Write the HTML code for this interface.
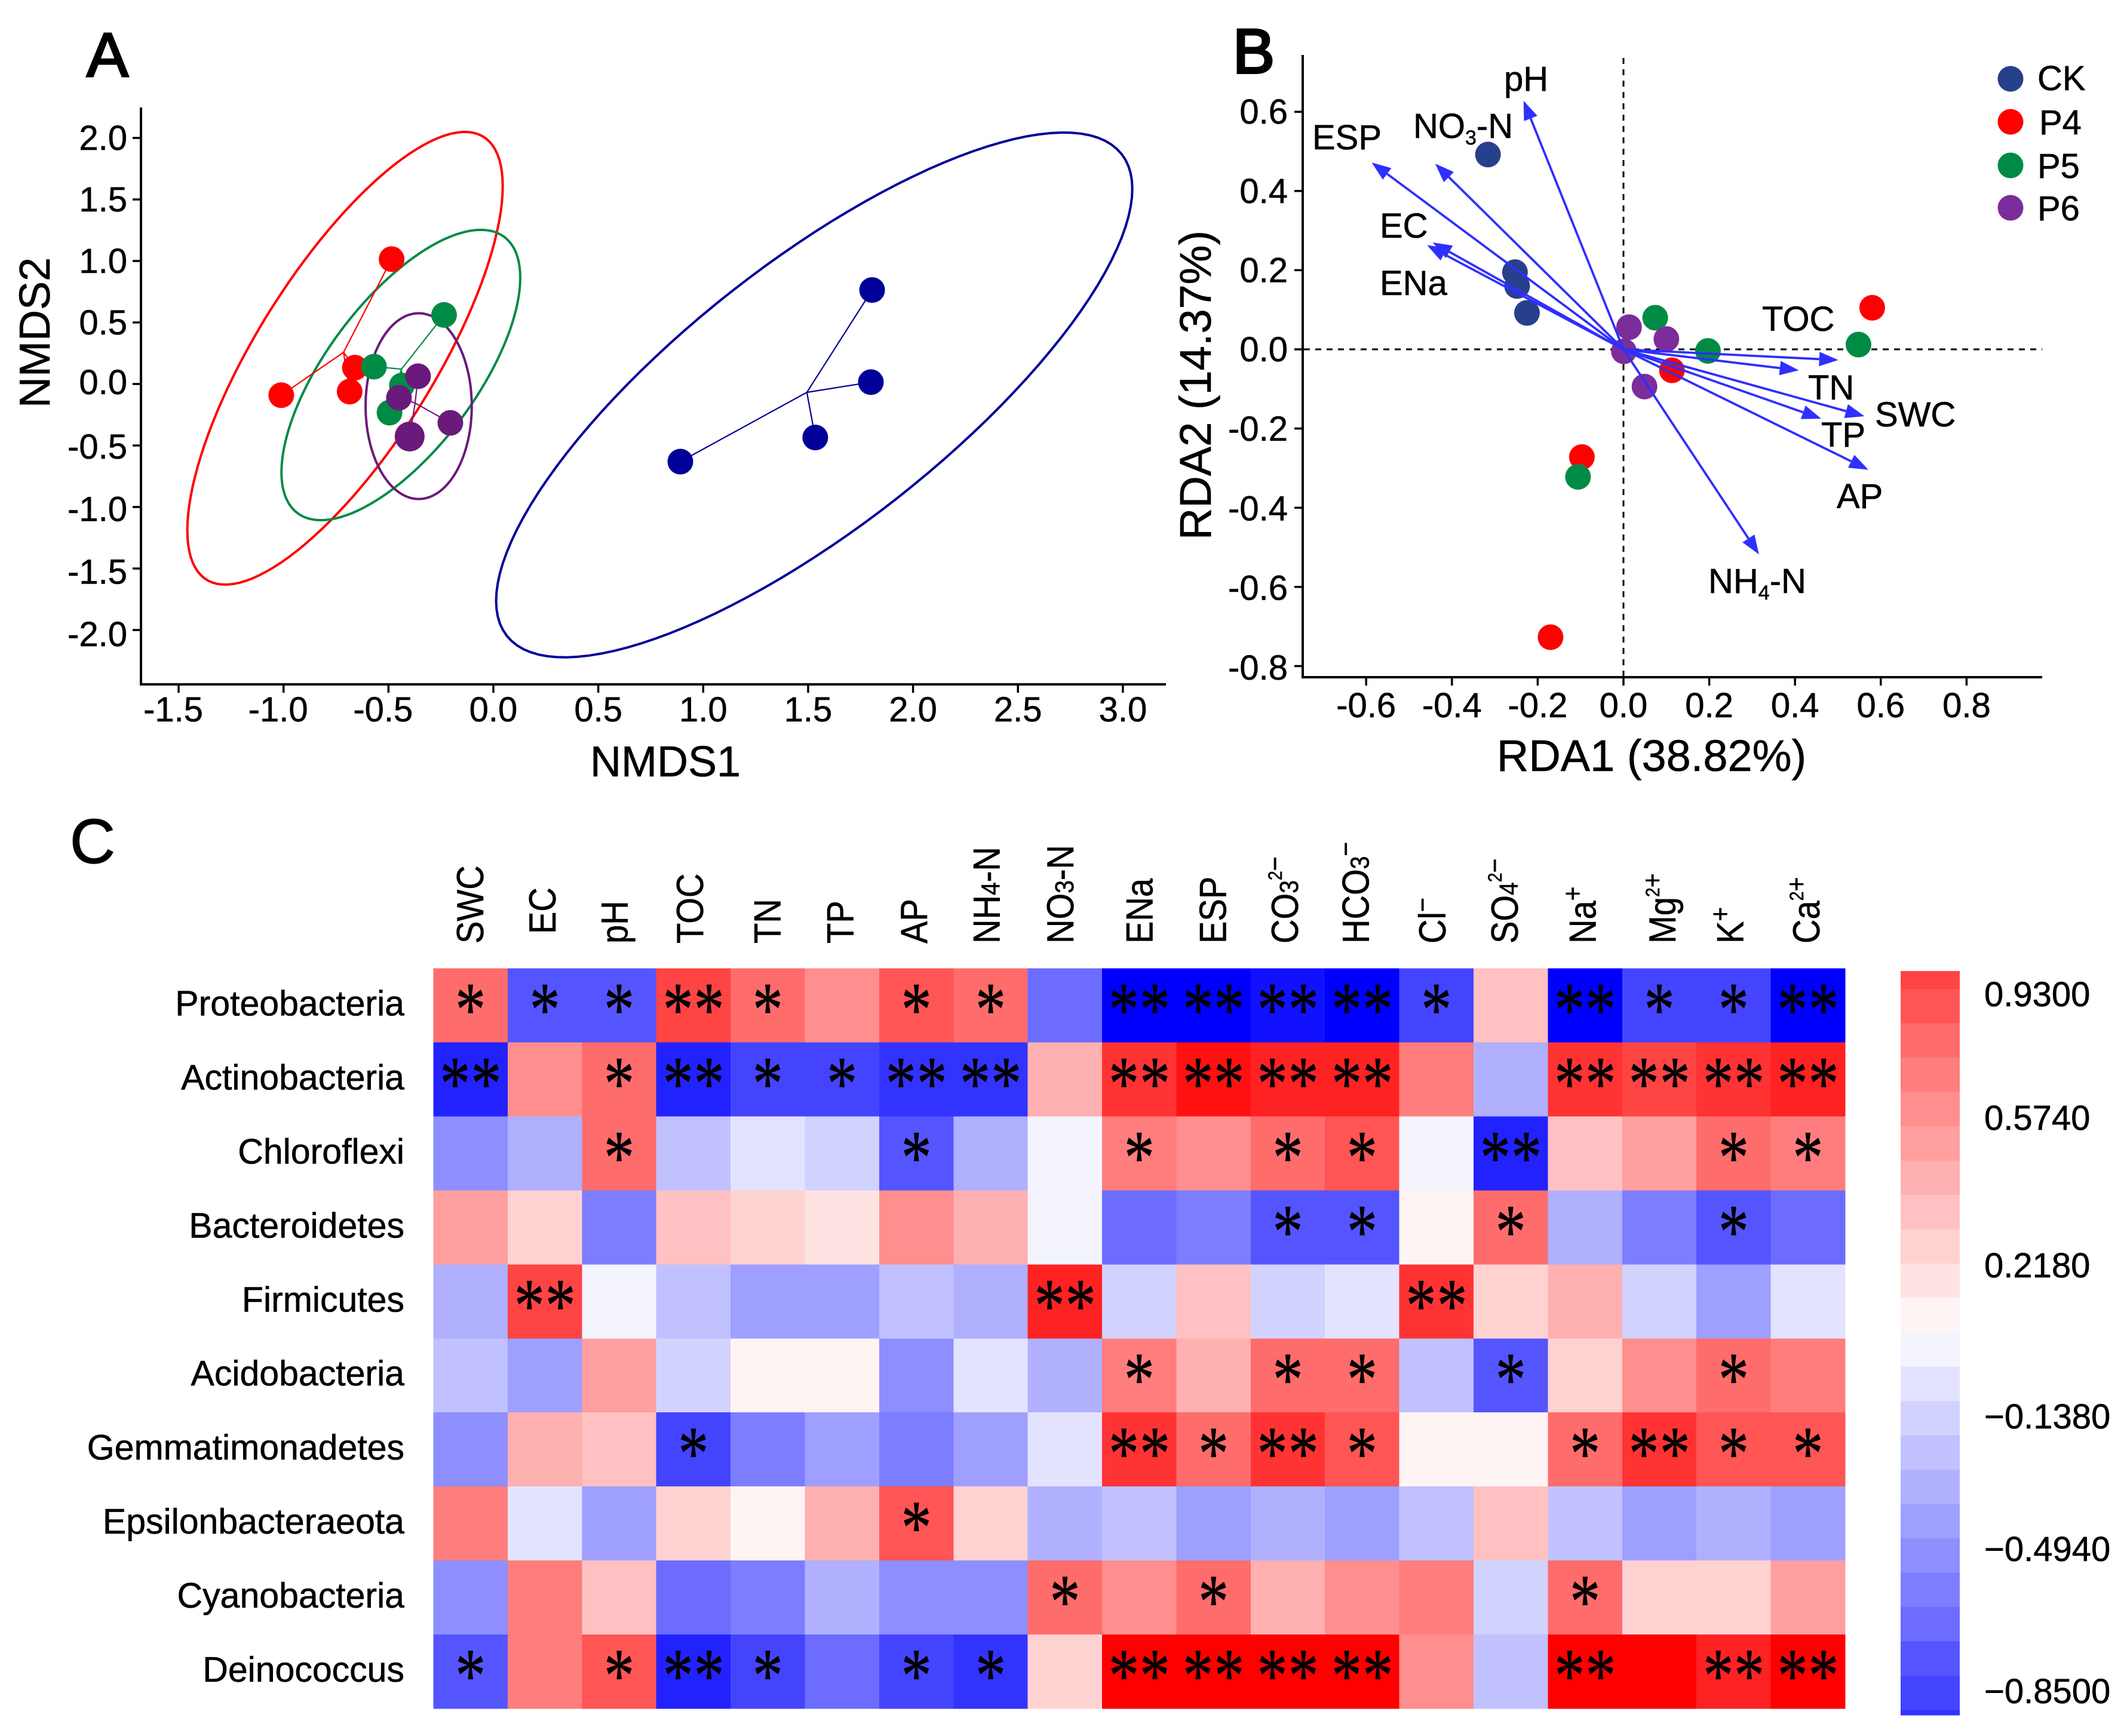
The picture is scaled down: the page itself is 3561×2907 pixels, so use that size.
<!DOCTYPE html>
<html lang="en">
<head>
<meta charset="utf-8">
<title>NMDS, RDA and correlation heatmap</title>
<style>
html,body{margin:0;padding:0;background:#fff;width:3561px;height:2907px;overflow:hidden}
svg{display:block;font-family:"Liberation Sans",sans-serif;fill:#000}
svg text{stroke:#000;stroke-width:.6}
</style>
</head>
<body>
<svg id="figure" xmlns="http://www.w3.org/2000/svg" width="3561" height="2907" viewBox="0 0 3561 2907">
  <rect x="0" y="0" width="3561" height="2907" fill="#ffffff"/>
  <text x="145" y="128" font-size="105" style="stroke-width:3">A</text>
  <text x="2064" y="122" font-size="105" style="stroke-width:4">B</text>
  <text x="117" y="1445" font-size="105" style="stroke-width:1.5">C</text>

  <text x="1114" y="1300" font-size="72" text-anchor="middle">NMDS1</text>
  <text transform="translate(83,557) rotate(-90)" font-size="72" text-anchor="middle">NMDS2</text>
  <text x="2765" y="1291" font-size="74" text-anchor="middle">RDA1 (38.82%)</text>
  <text transform="translate(2027,645) rotate(-90)" font-size="74" text-anchor="middle">RDA2 (14.37%)</text>

  <g id="panel-a"></g>
  <g id="panel-b"></g>
  <g id="panel-c"></g>

  <g font-size="58">
    <text x="3322" y="1685">0.9300</text>
    <text x="3322" y="1892">0.5740</text>
    <text x="3322" y="2139">0.2180</text>
    <text x="3322" y="2392">−0.1380</text>
    <text x="3322" y="2614">−0.4940</text>
    <text x="3322" y="2852">−0.8500</text>
  </g>
</svg>

<script>
/* ---------- Panel A: NMDS data ---------- */
const nmdsXTicks = [-1.5,-1.0,-0.5,0.0,0.5,1.0,1.5,2.0,2.5,3.0];
const nmdsYTicks = [2.0,1.5,1.0,0.5,0.0,-0.5,-1.0,-1.5,-2.0];
const nmdsGroups = ["CK","P4","P5","P6"];
const nmds1CK = [1.805,1.799,1.534,0.891];
const nmds2CK = [0.764,0.015,-0.435,-0.631];
const nmds1P4 = [-1.011,-0.685,-0.660,-0.485];
const nmds2P4 = [-0.091,-0.062,0.133,1.015];
const nmds1P5 = [-0.235,-0.569,-0.436,-0.495];
const nmds2P5 = [0.561,0.141,-0.012,-0.233];
const nmds1P6 = [-0.359,-0.450,-0.205,-0.399];
const nmds2P6 = [0.063,-0.112,-0.316,-0.427];
const centroid1 = [1.494,-0.714,-0.438,-0.373];
const centroid2 = [-0.068,0.257,0.121,-0.155];
const ellipseCenter1 = [1.529,-0.707,-0.441,-0.356];
const ellipseCenter2 = [-0.089,0.209,0.073,-0.180];
const ellipseSpread1 = [1.516,0.7515,0.569,0.253];
const ellipseSpread2 = [2.133,1.84,1.18,0.755];
const ellipseCorr = [0.785,0.76,0.67,0.0];

/* ---------- Panel B: RDA data ---------- */
const rdaXTicks = [-0.6,-0.4,-0.2,0.0,0.2,0.4,0.6,0.8];
const rdaYTicks = [0.6,0.4,0.2,0.0,-0.2,-0.4,-0.6,-0.8];
const rda1CK = [-0.316,-0.253,-0.248,-0.225];
const rda2CK = [0.492,0.195,0.160,0.092];
const rda1P4 = [0.580,0.113,-0.097,-0.170];
const rda2P4 = [0.105,-0.053,-0.272,-0.727];
const rda1P5 = [0.074,0.548,0.197,-0.106];
const rda2P5 = [0.080,0.012,-0.004,-0.322];
const rda1P6 = [0.013,0.100,0.001,0.049];
const rda2P6 = [0.056,0.026,-0.005,-0.094];
const envNames = ["pH","NO3-N","ESP","EC","ENa","TOC","TN","SWC","TP","AP","NH4-N"];
const envRda1 = [-0.233,-0.439,-0.587,-0.445,-0.458,0.501,0.409,0.562,0.461,0.571,0.316];
const envRda2 = [0.628,0.469,0.472,0.270,0.263,-0.027,-0.053,-0.169,-0.175,-0.304,-0.518];
const legendNames = ["CK","P4","P5","P6"];

/* ---------- Panel C: heatmap data ---------- */
const phyla = ["Proteobacteria","Actinobacteria","Chloroflexi","Bacteroidetes","Firmicutes","Acidobacteria","Gemmatimonadetes","Epsilonbacteraeota","Cyanobacteria","Deinococcus"];
const factors = ["SWC","EC","pH","TOC","TN","TP","AP","NH_4-N","NO_3-N","ENa","ESP","CO_3^2−","HCO_3^−","Cl^−","SO_4^2−","Na^+","Mg^2+","K^+","Ca^2+"];
const corrValues = [
 [ .60,-.67,-.67, .73, .60, .47, .67, .60,-.60,-1.0,-1.0,-.93,-1.0,-.73, .27,-1.0,-.73,-.73,-1.0],
 [-.87, .47, .60,-.87,-.73,-.73,-.80,-.80, .33, .80, .93, .87, .87, .53,-.33, .80, .73, .80, .85],
 [-.47,-.33, .60,-.27,-.13,-.20,-.67,-.33,-.07, .53, .47, .60, .67,-.07,-.87, .27, .40, .60, .53],
 [ .40, .20,-.53, .27, .20, .13, .47, .33,-.07,-.60,-.53,-.67,-.67, .07, .60,-.33,-.53,-.67,-.60],
 [-.33, .73,-.07,-.27,-.40,-.40,-.27,-.33, .87,-.20, .27,-.20,-.13, .80, .20, .33,-.20,-.40,-.13],
 [-.27,-.40, .40,-.20, .07, .07,-.47,-.13,-.33, .53, .33, .60, .60,-.27,-.67, .20, .47, .60, .53],
 [-.47, .33, .27,-.73,-.53,-.40,-.53,-.40,-.13, .80, .60, .80, .67, .07, .07, .60, .80, .67, .67],
 [ .53,-.13,-.40, .20, .07, .33, .67, .20,-.33,-.27,-.40,-.33,-.40,-.27, .27,-.27,-.40,-.33,-.40],
 [-.47, .53, .27,-.60,-.53,-.33,-.47,-.47, .60, .47, .60, .33, .47, .53,-.20, .60, .20, .20, .40],
 [-.67, .53, .67,-.87,-.73,-.60,-.73,-.80, .20, 1.0, .97, 1.0, 1.0, .47,-.27, .97, .97, .87, 1.0]
];
const sigMarks = [
 ["*","*","*","**","*","","*","*","","**","**","**","**","*","","**","*","*","**"],
 ["**","","*","**","*","*","**","**","","**","**","**","**","","","**","**","**","**"],
 ["","","*","","","","*","","","*","","*","*","","**","","","*","*"],
 ["","","","","","","","","","","","*","*","","*","","","*",""],
 ["","**","","","","","","","**","","","","","**","","","","",""],
 ["","","","","","","","","","*","","*","*","","*","","","*",""],
 ["","","","*","","","","","","**","*","**","*","","","*","**","*","*"],
 ["","","","","","","*","","","","","","","","","","","",""],
 ["","","","","","","","","*","","*","","","","","*","","",""],
 ["*","","*","**","*","","*","*","","**","**","**","**","","","**","","**","**"]
];
const colorbarBins = [.73,.67,.60,.53,.47,.40,.33,.27,.20,.13,.07,-.07,-.13,-.20,-.27,-.33,-.40,-.47,-.53,-.60,-.67,-.73,-.80];

/* ---------- helpers ---------- */
const NS = "http://www.w3.org/2000/svg";
function add(parent, tag, attrs, txt){
  const el = document.createElementNS(NS, tag);
  for (const k in attrs) el.setAttribute(k, attrs[k]);
  if (txt !== undefined) el.textContent = txt;
  parent.appendChild(el);
  return el;
}

/* ---------- Panel A ---------- */
const a = document.getElementById("panel-a");
const ax = v => 826 + 351.3 * v;
const ay = v => 643 - 206 * v;
const aColors = ["#000099","#ff0000","#008b45","#6a1a7a"];
const aXs = [nmds1CK,nmds1P4,nmds1P5,nmds1P6];
const aYs = [nmds2CK,nmds2P4,nmds2P5,nmds2P6];
{
  let el = add(a,"line",{x1:236,y1:180,x2:236,y2:1147,stroke:"#000","stroke-width":4});
  
  
  el = add(a,"line",{x1:234,y1:1146,x2:1952,y2:1146,stroke:"#000","stroke-width":4});
  
  
}
nmdsXTicks.forEach(v=>{
  const t = add(a,"line",{x1:ax(v),y1:1146,x2:ax(v),y2:1160,stroke:"#000","stroke-width":3.5});
  
  
  const l = add(a,"text",{x:ax(v)+(v<0?-9:0),y:1208,"font-size":58,"text-anchor":"middle"},v.toFixed(1));
  
  
});
nmdsYTicks.forEach(v=>{
  const t = add(a,"line",{x1:222,y1:ay(v),x2:236,y2:ay(v),stroke:"#000","stroke-width":3.5});
  
  
  const l = add(a,"text",{x:213,y:ay(v)+20+(v<0?-v*3.5:0)-(v===0?3:0),"font-size":58,"text-anchor":"end"},v.toFixed(1));
  
  
});
nmdsGroups.forEach((g,i)=>{
  const phi = Math.acos(ellipseCorr[i]);
  let d = "";
  for (let s=0;s<=120;s++){
    const t = s/120*2*Math.PI;
    const px = ax(ellipseCenter1[i] + ellipseSpread1[i]*Math.cos(t));
    const py = ay(ellipseCenter2[i] + ellipseSpread2[i]*Math.cos(t-phi));
    d += (s?"L":"M") + px.toFixed(1) + " " + py.toFixed(1);
  }
  const e = add(a,"path",{d:d+"Z",fill:"none",stroke:aColors[i],"stroke-width":4});
  
  
});
nmdsGroups.forEach((g,i)=>{
  aXs[i].forEach((x,j)=>{
    const s = add(a,"line",{x1:ax(centroid1[i]),y1:ay(centroid2[i]),x2:ax(x),y2:ay(aYs[i][j]),stroke:aColors[i],"stroke-width":2.2});
    
    
  });
});
nmdsGroups.forEach((g,i)=>{
  aXs[i].forEach((x,j)=>{
    const big = (g==="P6" && j===3);
    const p = add(a,"circle",{cx:ax(x),cy:ay(aYs[i][j]),r:big?25:21.5,fill:aColors[i]});
    
    
  });
});

/* ---------- Panel B ---------- */
const b = document.getElementById("panel-b");
const bx = v => 2718 + 718 * v;
const by = v => 585 - 663 * v;
const bColors = ["#27408b","#ff0000","#008b45","#7b2d9b"];
const bXs = [rda1CK,rda1P4,rda1P5,rda1P6];
const bYs = [rda2CK,rda2P4,rda2P5,rda2P6];
const arrowColor = "#2f2fff";
{
  let el = add(b,"line",{x1:2181,y1:92,x2:2181,y2:1136,stroke:"#000","stroke-width":4});
  
  
  el = add(b,"line",{x1:2179,y1:1134,x2:3419,y2:1134,stroke:"#000","stroke-width":4});
  
  
  el = add(b,"line",{x1:bx(0),y1:97,x2:bx(0),y2:1134,stroke:"#000","stroke-width":3,"stroke-dasharray":"10 9"});
  
  
  el = add(b,"line",{x1:2183,y1:by(0),x2:3419,y2:by(0),stroke:"#000","stroke-width":3,"stroke-dasharray":"10 9"});
  
  
}
rdaXTicks.forEach(v=>{
  const t = add(b,"line",{x1:bx(v),y1:1134,x2:bx(v),y2:1148,stroke:"#000","stroke-width":3.5});
  
  
  const l = add(b,"text",{x:bx(v),y:1201,"font-size":58,"text-anchor":"middle"},v.toFixed(1));
  
  
});
rdaYTicks.forEach(v=>{
  const t = add(b,"line",{x1:2167,y1:by(v),x2:2181,y2:by(v),stroke:"#000","stroke-width":3.5});
  
  
  const l = add(b,"text",{x:2156,y:by(v)+20+(v<0?-v*3:0),"font-size":58,"text-anchor":"end"},v.toFixed(1));
  
  
});
legendNames.forEach((g,i)=>{
  bXs[i].forEach((x,j)=>{
    const p = add(b,"circle",{cx:bx(x),cy:by(bYs[i][j]),r:21.5,fill:bColors[i]});
    
    
  });
});
const envLabelX = [2518,2366,2197,2310,2310,2950,3027,3139,3049,3075,2860];
const envLabelY = [152,231,250,398,494,554,669,714,748,851,993];
envNames.forEach((n,i)=>{
  const x0=bx(0), y0=by(0), x1=bx(envRda1[i]), y1=by(envRda2[i]);
  const L=Math.hypot(x1-x0,y1-y0), ux=(x1-x0)/L, uy=(y1-y0)/L;
  const hl=32, hw=12;
  const bxx=x1-ux*hl, byy=y1-uy*hl;
  const shaft = add(b,"line",{x1:x0,y1:y0,x2:bxx,y2:byy,stroke:arrowColor,"stroke-width":3.8});
  
  
  const head = add(b,"polygon",{points:[x1,y1,bxx-uy*hw,byy+ux*hw,bxx+uy*hw,byy-ux*hw].map(v=>v.toFixed(1)).join(" "),fill:arrowColor});
  
  
  const t = add(b,"text",{x:envLabelX[i],y:envLabelY[i],"font-size":58});
  
  
  const m = n.match(/^(NO|NH)(\d)(-N)$/);
  if (m){
    add(t,"tspan",{},m[1]);
    add(t,"tspan",{"font-size":34,dy:11},m[2]);
    add(t,"tspan",{dy:-11},m[3]);
  } else {
    t.textContent = n;
  }
});
const legendY = [132,204,277,348];
legendNames.forEach((n,i)=>{
  const d = add(b,"circle",{cx:3366,cy:legendY[i],r:21.5,fill:bColors[i]});
  
  
  const t = add(b,"text",{x:i===1?3414:3411,y:legendY[i]+(i===0?19:21),"font-size":58},n);
  
  
});

/* ---------- Panel C ---------- */
const c = document.getElementById("panel-c");
const cellW = (3089-725.5)/19, cellH = (2861-1621.5)/10;
const cx = j => 725.5 + cellW*j;
const cy = i => 1621.5 + cellH*i;
function fillFor(v){
  const level = Math.min(15, Math.round(Math.abs(v)*15));
  let ch = 255*(1-level/15);
  if (level>0 && level<10) ch += 6;
  ch = Math.round(ch);
  return v>=0 ? `rgb(255,${ch},${ch})` : `rgb(${ch},${ch},255)`;
}
corrValues.forEach((row,i)=>{
  row.forEach((v,j)=>{
    const r = add(c,"rect",{x:cx(j),y:cy(i),width:cellW+0.5,height:cellH+0.5,fill:fillFor(v),"shape-rendering":"crispEdges"});
    
    
  });
});
sigMarks.forEach((row,i)=>{
  row.forEach((s,j)=>{
    if (!s) return;
    const sx = cx(j)+cellW/2;
    const sy = cy(i)+cellH/2-11+60;
    const t = add(c,"text",{transform:`translate(${sx.toFixed(1)},${sy.toFixed(1)}) scale(0.8,1)`,x:s.length>1?1:0,"font-size":127,"text-anchor":"middle","letter-spacing":s.length>1?1.5:0,"font-family":'"Liberation Serif",serif',style:"stroke-width:1"},s);
    
    
  });
});
phyla.forEach((p,i)=>{
  const t = add(c,"text",{x:677,y:cy(i)+cellH/2+17,"font-size":59,"text-anchor":"end"},p);
  
  
});
const columnLabelNudge = [3.5,0,-4,-2,3,1,0,-3,-4,4,3,-1,-7,-3,-6,0,9,-2,1];
factors.forEach((f,j)=>{
  const x = cx(j)+cellW/2+18+columnLabelNudge[j];
  const yBase = f==="EC" ? 1564 : 1580;
  const t = add(c,"text",{transform:`translate(${x.toFixed(1)},${yBase}) rotate(-90) scale(0.89,1)`,"font-size":63});
  
  
  const parts = f.split(/(_\d|\^[^_]+)/).filter(Boolean);
  let shift = 0;
  parts.forEach(p=>{
    if (p[0]==="_"){
      add(t,"tspan",{"font-size":44,dy:0-shift},p.slice(1)); shift=0;
    } else if (p[0]==="^"){
      const m = p.slice(1).match(/^(\d?)(.)$/);
      if (m[1]){
        add(t,"tspan",{"font-size":32,dy:-27-shift},m[1]); shift=-27;
      }
      add(t,"tspan",{"font-size":46,dy:-23-shift},m[2]); shift=-23;
    } else {
      add(t,"tspan",{dy:-shift},p); shift=0;
    }
  });
});
colorbarBins.forEach((v,k)=>{
  const top = k===0 ? 1626 : 1656+57.5*(k-1);
  const bot = Math.min(2872, 1656+57.5*k);
  const r = add(c,"rect",{x:3182,y:top,width:99,height:bot-top+0.5,fill:fillFor(v),"shape-rendering":"crispEdges"});
  
  
});
</script>
</body>
</html>
